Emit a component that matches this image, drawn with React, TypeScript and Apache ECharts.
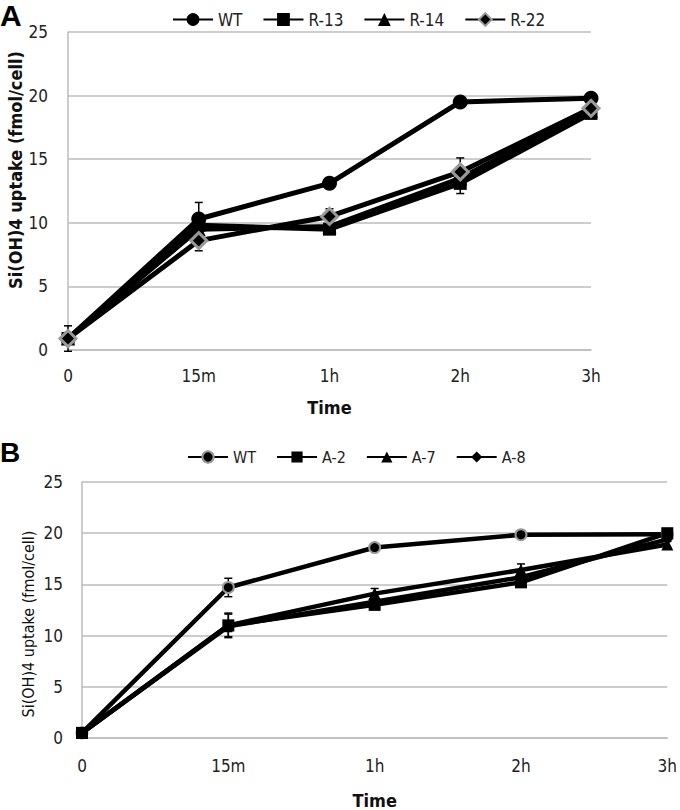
import React, { useEffect, useRef } from "react";
import * as echarts from "echarts";

const categories = ["0", "15m", "1h", "2h", "3h"];

// Panel A
const wtA = [0.9, 10.3, 13.1, 19.5, 19.8];
const r13 = [0.9, 9.8, 9.5, 13.1, 18.6];
const r14 = [0.9, 9.5, 9.7, 13.5, 18.8];
const r22 = [0.9, 8.6, 10.5, 14.0, 19.0];
const wtAErr = [0, 1.3, 0.4, 0.2, 0.2];
const r13Err = [0, 0, 0.3, 0.8, 0.3];
const r14Err = [0, 0, 0, 0.5, 0];
const r22Err = [1.0, 0.8, 0.6, 1.1, 0.3];

// Panel B
const wtB = [0.5, 14.7, 18.6, 19.85, 19.9];
const a2 = [0.5, 11.0, 13.0, 15.2, 20.0];
const a7 = [0.5, 11.0, 14.1, 16.4, 18.9];
const a8 = [0.5, 10.9, 13.3, 15.7, 19.4];
const wtBErr = [0, 0.9, 0.3, 0.3, 0.2];
const a2Err = [0, 1.1, 0.3, 0.4, 0.2];
const a7Err = [0, 1.2, 0.5, 0.6, 0.3];
const a8Err = [0, 0.5, 0.3, 0.3, 0.2];

const yTicks = [0, 25, 5]; // min, max, interval

const legendLabels: Record<string, string> = { "WT-B": "WT" };

const FONT = "'Liberation Sans Narrow', 'DejaVu Sans Condensed', 'Noto Sans', sans-serif";
const GRID_COLOR = "#bdbdbd";

function errorSeries(values: number[], errs: number[], axisIndex: number) {
  return {
    type: "custom",
    xAxisIndex: axisIndex,
    yAxisIndex: axisIndex,
    z: 1,
    silent: true,
    data: values.map((v, i) => [i, v, errs[i]]),
    renderItem: (params: any, api: any) => {
      const x = api.value(0);
      const v = api.value(1);
      const e = api.value(2);
      if (!e) return null;
      const top = api.coord([x, v + e]);
      const bot = api.coord([x, v - e]);
      const w = 4;
      const style = { stroke: "#000", lineWidth: 1.5 };
      return {
        type: "group",
        children: [
          { type: "line", shape: { x1: top[0], y1: top[1], x2: bot[0], y2: bot[1] }, style },
          { type: "line", shape: { x1: top[0] - w, y1: top[1], x2: top[0] + w, y2: top[1] }, style },
          { type: "line", shape: { x1: bot[0] - w, y1: bot[1], x2: bot[0] + w, y2: bot[1] }, style },
        ],
      };
    },
  };
}

function lineSeries(name: string, data: number[], axisIndex: number, symbol: string, size: number, width: number, item: any) {
  return {
    name,
    type: "line",
    xAxisIndex: axisIndex,
    yAxisIndex: axisIndex,
    z: 2,
    data,
    symbol,
    symbolSize: size,
    showAllSymbol: true,
    lineStyle: { color: "#000", width },
    itemStyle: { color: "#000", opacity: 1, ...item },
    emphasis: { disabled: true },
  };
}

function xAxis(gridIndex: number, gap: number, margin: number) {
  return {
    type: "category",
    gridIndex,
    data: categories,
    boundaryGap: false,
    axisLine: { show: true, lineStyle: { color: GRID_COLOR, width: 1.5 } },
    axisTick: { show: false },
    axisLabel: { color: "#222", fontSize: 17, fontFamily: FONT, margin },
    splitLine: { show: false },
    name: "Time",
    nameLocation: "middle",
    nameGap: gap,
    nameTextStyle: { color: "#111", fontSize: 18, fontWeight: "bold", fontFamily: FONT },
  };
}

function yAxis(gridIndex: number, margin: number) {
  return {
    type: "value",
    gridIndex,
    min: yTicks[0],
    max: yTicks[1],
    interval: yTicks[2],
    axisLine: { show: true, lineStyle: { color: GRID_COLOR, width: 1.5 } },
    axisTick: { show: false },
    axisLabel: { color: "#222", fontSize: 17, fontFamily: FONT, margin },
    splitLine: { show: true, lineStyle: { color: GRID_COLOR, width: 1.5 } },
  };
}

export default function App() {
  const ref = useRef<HTMLDivElement>(null);
  useEffect(() => {
    if (!ref.current) return;
    const chart = echarts.init(ref.current, null, { renderer: "svg" });
    const legendText = { color: "#222", fontSize: 17, fontFamily: FONT };
    chart.setOption({
      animation: false,
      backgroundColor: "#fff",
      grid: [
        { left: 68, right: 89, top: 32, height: 318 },
        { left: 82, right: 10, top: 482, height: 265 },
      ],
      legend: [
        {
          data: ["WT", "R-13", "R-14", "R-22"],
          left: 167,
          top: 6,
          itemWidth: 40,
          itemHeight: 16,
          itemGap: 20,
          textStyle: legendText,
          selectedMode: false,
          formatter: (n: string) => legendLabels[n] || n,
        },
        {
          data: ["WT-B", "A-2", "A-7", "A-8"],
          left: 182,
          top: 444,
          itemWidth: 40,
          itemHeight: 14,
          itemGap: 20,
          textStyle: { ...legendText, fontSize: 16 },
          selectedMode: false,
          formatter: (n: string) => legendLabels[n] || n,
        },
      ],
      xAxis: [xAxis(0, 48, 17), xAxis(1, 53, 19)],
      yAxis: [yAxis(0, 20), yAxis(1, 19)],
      graphic: [
        { type: "text", left: 0, top: 0, style: { text: "A", fontSize: 30, fontWeight: "bold", fontFamily: "'Liberation Sans', Arial, sans-serif", fill: "#000" } },
        { type: "text", left: 0, top: 438, style: { text: "B", fontSize: 28, fontWeight: "bold", fontFamily: "'Liberation Sans', Arial, sans-serif", fill: "#000" } },
        {
          type: "text",
          x: 15,
          y: 170,
          rotation: Math.PI / 2,
          style: { text: "Si(OH)4 uptake (fmol/cell)", fontSize: 18, fontWeight: "bold", fontFamily: FONT, fill: "#111", align: "center", verticalAlign: "middle" },
        },
        {
          type: "text",
          x: 28,
          y: 624,
          rotation: Math.PI / 2,
          style: { text: "Si(OH)4 uptake (fmol/cell)", fontSize: 16, fontFamily: FONT, fill: "#111", align: "center", verticalAlign: "middle" },
        },
      ],
      series: [
        errorSeries(wtA, wtAErr, 0),
        errorSeries(r13, r13Err, 0),
        errorSeries(r14, r14Err, 0),
        errorSeries(r22, r22Err, 0),
        lineSeries("WT", wtA, 0, "circle", 15, 5, {}),
        lineSeries("R-13", r13, 0, "rect", 13, 5, {}),
        lineSeries("R-14", r14, 0, "triangle", 14, 5, {}),
        lineSeries("R-22", r22, 0, "diamond", 16, 5, { borderColor: "#999", borderWidth: 3 }),
        errorSeries(wtB, wtBErr, 1),
        errorSeries(a2, a2Err, 1),
        errorSeries(a7, a7Err, 1),
        errorSeries(a8, a8Err, 1),
        lineSeries("WT-B", wtB, 1, "circle", 11, 4.5, { borderColor: "#999", borderWidth: 2 }),
        lineSeries("A-2", a2, 1, "rect", 12, 4.5, {}),
        lineSeries("A-7", a7, 1, "triangle", 12, 4.5, {}),
        lineSeries("A-8", a8, 1, "diamond", 11, 4.5, {}),
      ],
    });
    return () => chart.dispose();
  }, []);
  return <div ref={ref} style={{ position: "absolute", left: 0, top: 0, width: 680, height: 810 }} />;
}
